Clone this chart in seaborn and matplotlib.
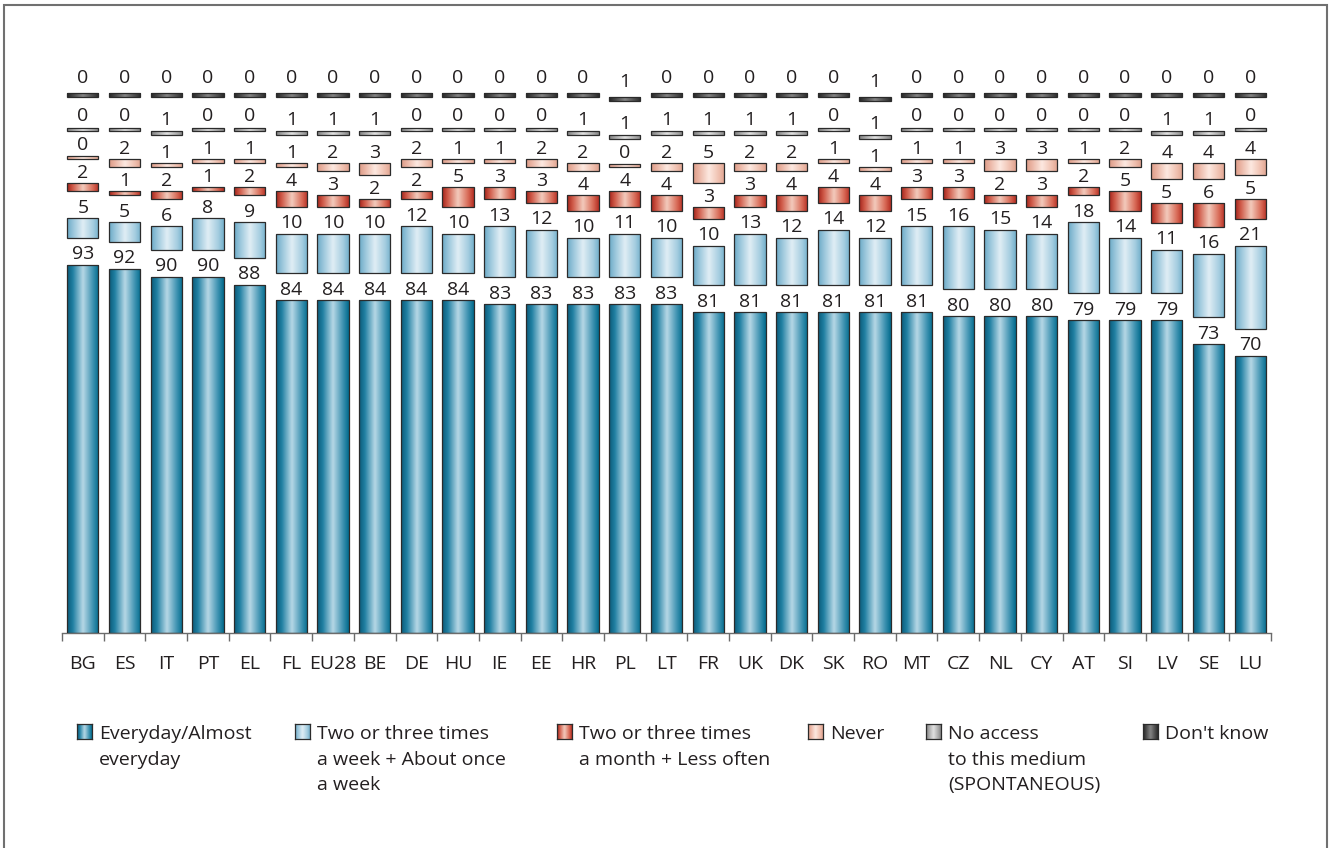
import numpy as np
import matplotlib
matplotlib.use("Agg")
import matplotlib.pyplot as plt
import seaborn as sns
from matplotlib.colors import LinearSegmentedColormap
from matplotlib.patches import Rectangle

# ---- data -------------------------------------------------------------
countries = ["BG", "ES", "IT", "PT", "EL", "FL", "EU28", "BE", "DE", "HU",
             "IE", "EE", "HR", "PL", "LT", "FR", "UK", "DK", "SK", "RO",
             "MT", "CZ", "NL", "CY", "AT", "SI", "LV", "SE", "LU"]
everyday = [93, 92, 90, 90, 88, 84, 84, 84, 84, 84, 83, 83, 83, 83, 83,
            81, 81, 81, 81, 81, 81, 80, 80, 80, 79, 79, 79, 73, 70]
weekly = [5, 5, 6, 8, 9, 10, 10, 10, 12, 10, 13, 12, 10, 11, 10,
          10, 13, 12, 14, 12, 15, 16, 15, 14, 18, 14, 11, 16, 21]
monthly = [2, 1, 2, 1, 2, 4, 3, 2, 2, 5, 3, 3, 4, 4, 4,
           3, 3, 4, 4, 4, 3, 3, 2, 3, 2, 5, 5, 6, 5]
never = [0, 2, 1, 1, 1, 1, 2, 3, 2, 1, 1, 2, 2, 0, 2,
         5, 2, 2, 1, 1, 1, 1, 3, 3, 1, 2, 4, 4, 4]
no_access = [0, 0, 1, 0, 0, 1, 1, 1, 0, 0, 0, 0, 1, 1, 1,
             1, 1, 1, 0, 1, 0, 0, 0, 0, 0, 0, 1, 1, 0]
dont_know = [0, 0, 0, 0, 0, 0, 0, 0, 0, 0, 0, 0, 0, 1, 0,
             0, 0, 0, 0, 1, 0, 0, 0, 0, 0, 0, 0, 0, 0]

series_labels = ["Everyday/Almost\neveryday",
                 "Two or three times\na week + About once\na week",
                 "Two or three times\na month + Less often",
                 "Never",
                 "No access\nto this medium\n(SPONTANEOUS)",
                 "Don't know"]
series_values = [everyday, weekly, monthly, never, no_access, dont_know]

# cylinder-like shading: (edge, mid, highlight, mid, edge)
shades = [
    ["#0b5a78", "#1f7fa2", "#b7d8e6", "#3b91b0", "#006a8c"],
    ["#6aa9c6", "#96c4da", "#e0eef5", "#a5cde0", "#73b0cc"],
    ["#a3221a", "#cf5a48", "#f3cbbd", "#d86a57", "#b52e22"],
    ["#dc9a86", "#eab4a3", "#fde9e1", "#efbfae", "#e0a28f"],
    ["#7e7e7e", "#a4a4a4", "#e2e2e2", "#ababab", "#858585"],
    ["#262626", "#444444", "#858585", "#4a4a4a", "#2a2a2a"],
]
cmaps = [LinearSegmentedColormap.from_list(f"shade{i}", list(zip([0, 0.18, 0.5, 0.82, 1], s)))
         for i, s in enumerate(shades)]

# vertical gaps (in percentage units) left between consecutive segments
gaps = [6.8, 6.8, 6.1, 7.1, 8.6]
# label offset above each segment, in points
label_offsets = [1.0, 1.0, 1.0, 1.0, 1.5, 4.5]
min_visible = 0.85
bar_width = 0.75
text_color = "#231f20"
font_size = 14

W, H, DPI = 1335, 848, 100

sns.set_theme(style="white")
plt.rcParams["font.family"] = ["Open Sans", "DejaVu Sans"]

fig = plt.figure(figsize=(W / DPI, H / DPI), dpi=DPI)
ax = fig.add_axes([62 / W, (H - 633) / H, 1209 / W, 594 / H])

n = len(countries)
xpos = np.arange(n)
base = np.zeros(n)
grad = np.linspace(0, 1, 256)[np.newaxis, :]

for i, (vals, cmap) in enumerate(zip(series_values, cmaps)):
    vals = np.asarray(vals, dtype=float)
    if i > 0:
        base = base + np.asarray(series_values[i - 1], dtype=float) + gaps[i - 1]
    drawn = np.maximum(vals, min_visible)
    before = len(ax.patches)
    sns.barplot(x=countries, y=drawn, ax=ax, width=bar_width, color=shades[i][2],
                edgecolor="#2b2b2b", linewidth=0.9, order=countries)
    new_patches = ax.patches[before:]
    for p, b, h, v, xc in zip(new_patches, base, drawn, vals, xpos):
        p.set_y(b)
        p.set_facecolor("none")
        p.set_zorder(3)
        x0, w = p.get_x(), p.get_width()
        img = ax.imshow(grad, cmap=cmap, extent=(x0, x0 + w, b, b + h),
                        aspect="auto", interpolation="bicubic", zorder=2)
        img.set_clip_path(p)
        ax.annotate(f"{int(v)}", (xc, b + h), xytext=(0, label_offsets[i]),
                    textcoords="offset points", ha="center", va="bottom",
                    fontsize=font_size, color=text_color, annotation_clip=False)

ax.set_xlim(-0.5, n - 0.5)
ax.set_ylim(0, 150)
ax.set_aspect("auto")
for s in ["left", "top", "right"]:
    ax.spines[s].set_visible(False)
ax.spines["bottom"].set_color("#6b6b6b")
ax.spines["bottom"].set_linewidth(1.0)
ax.set_yticks([])
ax.set_xticks(xpos)
ax.set_xticklabels(countries)
ax.set_xticks(np.arange(n + 1) - 0.5, minor=True)
ax.tick_params(axis="x", which="major", length=0, pad=16, labelsize=font_size, colors=text_color)
ax.tick_params(axis="x", which="minor", length=6, width=1.0, color="#6b6b6b", direction="out", bottom=True)
ax.set_xlabel("")
ax.set_ylabel("")

# ---- legend ------------------------------------------------------------
legend_x = [77, 295, 557, 808, 926, 1143]
sq = 15
top = 724
for lx, label, cmap in zip(legend_x, series_labels, cmaps):
    lax = fig.add_axes([lx / W, 1 - (top + sq) / H, sq / W, sq / H])
    lax.imshow(grad, cmap=cmap, aspect="auto", interpolation="bicubic")
    lax.set_xticks([])
    lax.set_yticks([])
    for s in lax.spines.values():
        s.set_color("#2b2b2b")
        s.set_linewidth(0.9)
    fig.text((lx + sq + 7) / W, 1 - (top + 1) / H, label, ha="left", va="top",
             fontsize=font_size, color=text_color, linespacing=1.55)

# outer frame
fig.add_artist(Rectangle((4 / W, -0.02), (1327 - 4) / W, 1 - 5 / H + 0.02,
                         transform=fig.transFigure, fill=False,
                         edgecolor="#707070", linewidth=1.5))

fig.savefig("out.png", dpi=DPI)
